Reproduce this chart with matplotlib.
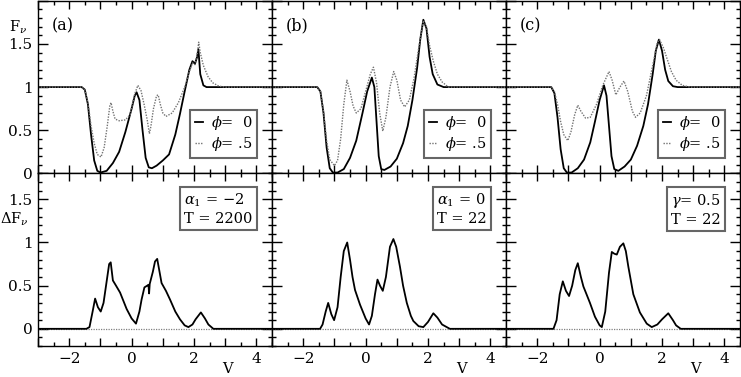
import matplotlib.pyplot as plt
from matplotlib.ticker import MultipleLocator, FuncFormatter
from matplotlib.offsetbox import AnchoredText

plt.rcParams['font.family'] = ['DejaVu Serif']
plt.rcParams['mathtext.fontset'] = 'dejavuserif'

# --- panel (a): flux profiles, phi = 0 (solid) and phi = .5 (dotted) ---
va_0 = [-3.0, -1.6, -1.5, -1.4, -1.3, -1.2, -1.1, -1.0, -0.8, -0.6, -0.4, -0.2, 0.0, 0.1,
        0.16, 0.25, 0.35, 0.45, 0.55, 0.65, 0.8, 1.0, 1.2, 1.4, 1.55, 1.7, 1.85, 1.95,
        2.03, 2.1, 2.14, 2.2, 2.3, 2.4, 4.5]
fa_0 = [1.0, 1.0, 0.97, 0.8, 0.45, 0.15, 0.03, 0.01, 0.03, 0.12, 0.25, 0.48, 0.75, 0.9,
        0.94, 0.85, 0.5, 0.18, 0.07, 0.06, 0.09, 0.15, 0.22, 0.45, 0.69, 0.95, 1.2, 1.3,
        1.27, 1.35, 1.44, 1.15, 1.02, 1.0, 1.0]
va_5 = [-3.0, -1.6, -1.5, -1.4, -1.3, -1.2, -1.1, -0.98, -0.88, -0.78, -0.7, -0.66, -0.6,
        -0.53, -0.4, -0.2, -0.05, 0.1, 0.2, 0.3, 0.4, 0.5, 0.57, 0.62, 0.7, 0.8, 0.85,
        0.92, 1.0, 1.1, 1.3, 1.5, 1.7, 1.85, 1.95, 2.03, 2.1, 2.15, 2.2, 2.3, 2.45, 2.6,
        2.8, 3.0, 4.5]
fa_5 = [1.0, 1.0, 0.97, 0.82, 0.55, 0.35, 0.22, 0.19, 0.3, 0.55, 0.78, 0.82, 0.72,
        0.63, 0.61, 0.62, 0.68, 0.92, 1.02, 0.96, 0.8, 0.62, 0.46, 0.55, 0.75, 0.9, 0.91,
        0.8, 0.7, 0.66, 0.7, 0.82, 1.0, 1.18, 1.28, 1.26, 1.38, 1.52, 1.4, 1.25, 1.12, 1.05,
        1.01, 1.0, 1.0]
va_d = [-3.0, -1.45, -1.35, -1.25, -1.17, -1.08, -0.99, -0.9, -0.8, -0.72, -0.67, -0.6,
        -0.5, -0.37, -0.16, 0.0, 0.14, 0.25, 0.32, 0.41, 0.5, 0.54, 0.56, 0.58, 0.68, 0.75,
        0.82, 0.9, 0.96, 1.1, 1.23, 1.4, 1.55, 1.7, 1.82, 1.95, 2.05, 2.22, 2.35, 2.46,
        2.62, 4.5]
dfa = [0.0, 0.0, 0.02, 0.2, 0.35, 0.25, 0.2, 0.3, 0.55, 0.75, 0.77, 0.56,
       0.5, 0.42, 0.23, 0.12, 0.06, 0.2, 0.34, 0.48, 0.5, 0.51, 0.41, 0.52, 0.66, 0.78,
       0.81, 0.65, 0.53, 0.44, 0.34, 0.2, 0.11, 0.04, 0.02, 0.05, 0.11, 0.19, 0.12, 0.05,
       0.0, 0.0]

# --- panel (b) ---
vb_0 = [-3.0, -1.55, -1.45, -1.35, -1.25, -1.15, -1.05, -0.9, -0.7, -0.5, -0.3, -0.1,
        0.05, 0.2, 0.28, 0.35, 0.42, 0.5, 0.6, 0.8, 1.0, 1.2, 1.35, 1.5, 1.65, 1.75,
        1.85, 1.95, 2.05, 2.15, 2.3, 2.5, 4.5]
fb_0 = [1.0, 1.0, 0.95, 0.7, 0.3, 0.06, 0.01, 0.01, 0.05, 0.18, 0.38, 0.7,
        0.95, 1.11, 1.0, 0.6, 0.2, 0.05, 0.04, 0.08, 0.17, 0.35, 0.55, 0.85, 1.22, 1.55,
        1.78, 1.68, 1.35, 1.15, 1.03, 1.0, 1.0]
vb_5 = [-3.0, -1.55, -1.45, -1.35, -1.25, -1.15, -1.0, -0.9, -0.8, -0.7, -0.6, -0.5,
        -0.4, -0.3, -0.15, 0.0, 0.15, 0.25, 0.35, 0.45, 0.55, 0.65, 0.78, 0.9, 1.0, 1.12,
        1.25, 1.4, 1.55, 1.7, 1.85, 1.95, 2.05, 2.17, 2.3, 2.45, 2.65, 4.5]
fb_5 = [1.0, 1.0, 0.95, 0.72, 0.38, 0.16, 0.09, 0.15, 0.4, 0.8, 1.08, 0.95,
        0.78, 0.7, 0.75, 0.95, 1.15, 1.23, 1.05, 0.7, 0.49, 0.65, 1.0, 1.18, 1.08, 0.85,
        0.77, 0.85, 1.1, 1.45, 1.77, 1.7, 1.48, 1.3, 1.15, 1.06, 1.0, 1.0]
vb_d = [-3.0, -1.46, -1.38, -1.28, -1.2, -1.1, -1.01, -0.9, -0.8, -0.7, -0.59, -0.5,
        -0.42, -0.34, -0.18, 0.0, 0.11, 0.2, 0.3, 0.38, 0.46, 0.55, 0.65, 0.78, 0.89,
        0.98, 1.1, 1.2, 1.32, 1.45, 1.53, 1.7, 1.85, 2.0, 2.17, 2.3, 2.45, 2.7, 4.5]
dfb = [0.0, 0.0, 0.05, 0.2, 0.3, 0.17, 0.1, 0.25, 0.6, 0.9, 1.0, 0.8,
       0.6, 0.45, 0.28, 0.12, 0.05, 0.15, 0.4, 0.57, 0.5, 0.44, 0.6, 0.95, 1.04,
       0.95, 0.72, 0.5, 0.3, 0.15, 0.09, 0.03, 0.02, 0.08, 0.18, 0.13, 0.05, 0.0, 0.0]

# --- panel (c) ---
vc_0 = [-3.0, -1.55, -1.45, -1.35, -1.25, -1.15, -1.05, -0.9, -0.7, -0.5, -0.3, -0.15,
        0.0, 0.14, 0.22, 0.3, 0.38, 0.47, 0.6, 0.8, 1.0, 1.2, 1.4, 1.55, 1.7, 1.8, 1.9,
        2.0, 2.1, 2.2, 2.35, 2.5, 4.5]
fc_0 = [1.0, 1.0, 0.93, 0.65, 0.28, 0.06, 0.01, 0.01, 0.06, 0.16, 0.36, 0.6,
        0.85, 1.02, 0.9, 0.55, 0.2, 0.05, 0.03, 0.08, 0.16, 0.32, 0.55, 0.8, 1.15, 1.42, 1.55,
        1.42, 1.2, 1.07, 1.01, 1.0, 1.0]
vc_5 = [-3.0, -1.55, -1.45, -1.35, -1.25, -1.15, -1.02, -0.92, -0.8, -0.7, -0.6, -0.45,
        -0.3, -0.1, 0.1, 0.3, 0.4, 0.52, 0.65, 0.78, 0.9, 1.05, 1.15, 1.3, 1.5, 1.7, 1.85,
        1.92, 2.05, 2.15, 2.3, 2.45, 2.65, 2.9, 4.5]
fc_5 = [1.0, 1.0, 0.95, 0.8, 0.6, 0.45, 0.38, 0.48, 0.68, 0.79, 0.72, 0.64,
        0.65, 0.8, 1.02, 1.18, 1.08, 0.91, 1.0, 1.07, 0.95, 0.72, 0.65, 0.7, 0.9, 1.25, 1.52,
        1.55, 1.45, 1.34, 1.18, 1.08, 1.02, 1.0, 1.0]
vc_d = [-3.0, -1.48, -1.38, -1.28, -1.18, -1.08, -0.98, -0.88, -0.78, -0.7, -0.6, -0.52,
        -0.42, -0.31, -0.15, 0.0, 0.07, 0.18, 0.3, 0.39, 0.47, 0.55, 0.65, 0.76, 0.84,
        0.92, 1.08, 1.29, 1.51, 1.67, 1.85, 2.0, 2.2, 2.35, 2.45, 2.6, 4.5]
dfc = [0.0, 0.0, 0.1, 0.4, 0.55, 0.44, 0.38, 0.5, 0.68, 0.76, 0.6, 0.49,
       0.4, 0.3, 0.14, 0.04, 0.02, 0.2, 0.65, 0.89, 0.87, 0.86, 0.95, 0.99, 0.9,
       0.72, 0.4, 0.19, 0.06, 0.02, 0.05, 0.11, 0.18, 0.1, 0.04, 0.0, 0.0]

panel_tags = ['(a)', '(b)', '(c)']
box_texts = ['$\\alpha_1$ = \u22122\nT = 2200', '$\\alpha_1$ = 0\nT = 22', '$\\gamma$= 0.5\nT = 22']
top_data = [(va_0, fa_0, va_5, fa_5), (vb_0, fb_0, vb_5, fb_5), (vc_0, fc_0, vc_5, fc_5)]
bot_data = [(va_d, dfa), (vb_d, dfb), (vc_d, dfc)]

fig, axes = plt.subplots(2, 3, figsize=(7.41, 3.77), dpi=100)
fig.subplots_adjust(left=0.0513, right=0.9987, top=0.998, bottom=0.082, wspace=0, hspace=0)

xfmt = FuncFormatter(lambda x, p: ('%d' % x).replace('-', '\u2212') if int(round(x)) % 2 == 0 else '')
yfmt = FuncFormatter(lambda y, p: '%g' % y if y < 1.9 else '')

for col in range(3):
    for row in range(2):
        ax = axes[row, col]
        ax.set_xlim(-3, 4.5)
        if row == 0:
            ax.set_ylim(0, 2.0)
        else:
            ax.set_ylim(-0.2, 1.8)
        ax.xaxis.set_major_locator(MultipleLocator(1))
        ax.xaxis.set_minor_locator(MultipleLocator(0.5))
        ax.yaxis.set_major_locator(MultipleLocator(0.5))
        ax.yaxis.set_minor_locator(MultipleLocator(0.1))
        ax.tick_params(which='both', direction='in', top=True, right=True,
                       labelsize=11, width=1.0, pad=4)
        ax.tick_params(axis='x', which='major', length=6)
        ax.tick_params(axis='y', which='major', length=7)
        ax.tick_params(which='minor', length=3)
        for s in ax.spines.values():
            s.set_linewidth(1.0)
        ax.xaxis.set_major_formatter(xfmt)
        ax.yaxis.set_major_formatter(yfmt)
        if row == 0:
            ax.tick_params(labelbottom=False)
        if col > 0:
            ax.tick_params(labelleft=False)

    # top row: flux profiles
    ax = axes[0, col]
    v0, f0, v5, f5 = top_data[col]
    ax.plot(v0, f0, color='black', lw=1.3, label='$\\phi$=  0')
    ax.plot(v5, f5, color='0.45', lw=1.0, ls=(0, (1, 1)), label='$\\phi$= .5')
    leg = ax.legend(loc='lower right', bbox_to_anchor=(0.936, 0.092), borderaxespad=0,
                    fontsize=10.5, handlelength=0.6, handletextpad=0.5, labelspacing=0.2,
                    borderpad=0.3, fancybox=False, framealpha=1)
    leg.get_frame().set_edgecolor('0.4')
    leg.get_frame().set_linewidth(1.5)
    ax.text(0.06, 0.855, panel_tags[col], transform=ax.transAxes, fontsize=11.5,
            ha='left', va='center')

    # bottom row: flux differences
    ax = axes[1, col]
    vd, df = bot_data[col]
    ax.axhline(0, color='0.5', lw=0.9, ls=(0, (1, 1)))
    ax.plot(vd, df, color='black', lw=1.3)
    at = AnchoredText(box_texts[col], loc='upper right', bbox_to_anchor=(0.936, 0.919),
                      bbox_transform=ax.transAxes, borderpad=0, pad=0.3,
                      prop=dict(size=10.5, linespacing=1.25))
    at.patch.set_boxstyle('square', pad=0)
    at.patch.set_edgecolor('0.4')
    at.patch.set_linewidth(1.5)
    ax.add_artist(at)
    ax.text(3.06, -0.13, 'V', transform=ax.get_xaxis_transform(), fontsize=10.5,
            ha='center', va='center')

axes[0, 0].text(-0.125, 1.69, 'F$_\\nu$', transform=axes[0, 0].get_yaxis_transform(),
                fontsize=10.5, ha='left', va='center')
axes[1, 0].text(-0.162, 1.27, '$\\Delta$F$_\\nu$', transform=axes[1, 0].get_yaxis_transform(),
                fontsize=10.5, ha='left', va='center')

fig.savefig('out.png', dpi=100)
